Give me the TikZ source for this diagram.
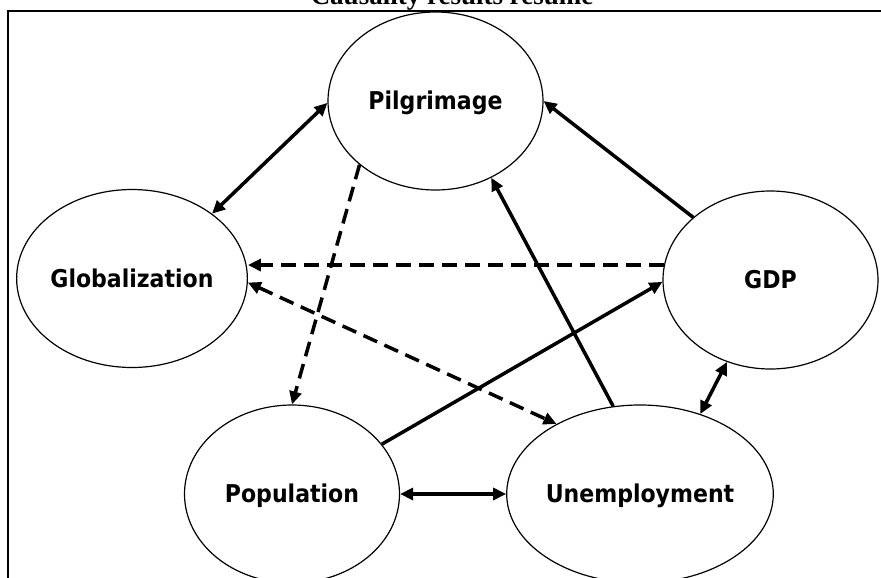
\documentclass[tikz,border=0pt]{standalone}
\usepackage{fontspec}
\setmainfont{Liberation Serif}
\newfontfamily\labfont{DejaVu Sans Condensed Bold}
\usetikzlibrary{arrows.meta,calc,shapes.geometric}
\begin{document}
\begin{tikzpicture}[x=1pt,y=-1pt,
  var/.style={draw, ellipse, line width=1.2pt, minimum width=215pt, minimum height=178pt,
    inner sep=0pt, font=\labfont\fontsize{24.5}{28}\selectfont, text height=17.9pt, text depth=0pt},
  link/.style={line width=3.5pt, >={Triangle[length=13pt,width=12pt]}},
  dashlink/.style={link, dash pattern=on 15pt off 8pt}]
\useasboundingbox (0,0) rectangle (881,578);
% frame
\draw[line width=2pt] (8,600) -- (8,11) -- (900,11);
% title
\node[font=\bfseries\fontsize{27}{30}\selectfont, anchor=base, inner sep=0pt] (title) at (452,5) {Causality results resume};
% variables
\node[var] (pil) at (435.5,101) {Pilgrimage};
\node[var] (glob) at (132,278.5) {Globalization};
\node[var] (gdp) at (770.5,280) {GDP};
\node[var] (pop) at (292,494) {Population};
\node[var] (unemp) at (640,494) {Unemployment};
% links
\draw[link,<->] (glob.39) -- (pil.181);
\draw[link,->] (gdp.141) -- (pil.0);
\draw[link,->] (unemp.107) -- (pil.306);
\draw[dashlink,->] (pil.220) -- (pop.90);
\draw[dashlink,->] (gdp.172) -- (gdp.172 -| glob.east);
\draw[dashlink,<->] (glob.358) -- (unemp.140);
\draw[link,->] (pop.29) -- (gdp.181);
\draw[link,<->] (pop.0) -- (unemp.180);
\draw[link,<->] (unemp.53.5) -- (gdp.242);
\end{tikzpicture}
\end{document}
